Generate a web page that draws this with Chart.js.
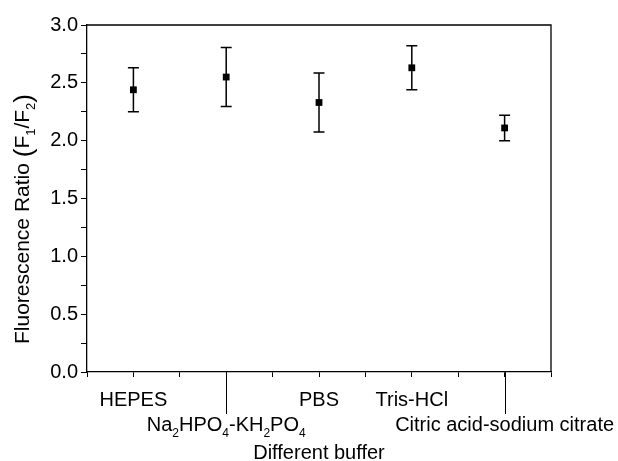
<!DOCTYPE html>
<html lang="en">
<head>
  <meta charset="UTF-8">
  <title>Fluorescence Ratio in Different Buffers</title>
  <script src="https://cdn.jsdelivr.net/npm/chart.js"></script>
  <style>
    html, body { margin: 0; padding: 0; background: #fff; }
    #wrap { width: 618px; height: 461px; }
  </style>
</head>
<body>
  <div id="wrap"><canvas id="bufferChart" width="618" height="461"></canvas></div>

  <script>
    // '_' marks the next character as a subscript
    const buffers = ['HEPES', 'Na_2HPO_4-KH_2PO_4', 'PBS', 'Tris-HCl', 'Citric acid-sodium citrate'];
    const ratios = [2.44, 2.55, 2.33, 2.63, 2.11];
    const errors = [0.19, 0.255, 0.255, 0.19, 0.11];
    const yMin = 0, yMax = 3, yStep = 0.5;
    const xTitle = 'Different buffer';
    const yTitle = 'Fluorescence Ratio (F_1/F_2)';

    const FONT = "'Liberation Sans', Arial, sans-serif";
    const labelRow = [0, 1, 0, 0, 1]; // staggered category labels

    // split a string into normal / subscript / big-paren runs
    function parseRich(str, bigParens) {
      const runs = [];
      for (let i = 0; i < str.length; i++) {
        const c = str[i];
        if (c === '_' && i + 1 < str.length) {
          runs.push({ t: str[i + 1], sub: true });
          i++;
        } else if (bigParens && (c === '(' || c === ')')) {
          runs.push({ t: c, big: true });
        } else if (runs.length && !runs[runs.length - 1].sub && !runs[runs.length - 1].big) {
          runs[runs.length - 1].t += c;
        } else {
          runs.push({ t: c });
        }
      }
      return runs;
    }

    function fontFor(run, size) {
      if (run.sub) return Math.round(size * 0.62) + 'px ' + FONT;
      if (run.big) return Math.round(size * 1.25) + 'px ' + FONT;
      return size + 'px ' + FONT;
    }

    // draws text centered at x on baseline y (in current transform)
    function drawRich(ctx, str, x, y, size, bigParens) {
      const runs = parseRich(str, bigParens);
      let w = 0;
      runs.forEach(r => { ctx.font = fontFor(r, size); w += ctx.measureText(r.t).width; });
      let cx = x - w / 2;
      ctx.textAlign = 'left';
      ctx.textBaseline = 'alphabetic';
      runs.forEach(r => {
        ctx.font = fontFor(r, size);
        ctx.fillText(r.t, cx, r.sub ? y + size * 0.3 : (r.big ? y + size * 0.12 : y));
        cx += ctx.measureText(r.t).width;
      });
    }

    const decorPlugin = {
      id: 'decor',
      afterDatasetsDraw(chart) {
        const { ctx, chartArea: a, scales: { x, y } } = chart;
        ctx.save();
        ctx.strokeStyle = '#000';
        ctx.fillStyle = '#000';

        // error bars
        ctx.lineWidth = 1.5;
        ratios.forEach((v, i) => {
          const px = x.getPixelForValue(i + 1);
          const top = y.getPixelForValue(v + errors[i]);
          const bot = y.getPixelForValue(v - errors[i]);
          ctx.beginPath();
          ctx.moveTo(px, top); ctx.lineTo(px, bot);
          ctx.moveTo(px - 5.5, top); ctx.lineTo(px + 5.5, top);
          ctx.moveTo(px - 5.5, bot); ctx.lineTo(px + 5.5, bot);
          ctx.stroke();
        });

        // top and right frame
        ctx.lineWidth = 1.3;
        ctx.beginPath();
        ctx.moveTo(a.left, a.top); ctx.lineTo(a.right, a.top); ctx.lineTo(a.right, a.bottom);
        ctx.stroke();

        // long ticks for second-row labels
        ctx.lineWidth = 1;
        buffers.forEach((b, i) => {
          if (!labelRow[i]) return;
          const px = Math.round(x.getPixelForValue(i + 1)) + 0.5;
          ctx.beginPath();
          ctx.moveTo(px, a.bottom); ctx.lineTo(px, a.bottom + 42);
          ctx.stroke();
        });

        // category labels
        buffers.forEach((b, i) => {
          drawRich(ctx, b, x.getPixelForValue(i + 1), labelRow[i] ? 431 : 406, 20);
        });

        // axis titles
        drawRich(ctx, xTitle, (a.left + a.right) / 2, 459, 20);
        ctx.translate(29, 219);
        ctx.rotate(-Math.PI / 2);
        drawRich(ctx, yTitle, 0, 0, 21, true);
        ctx.restore();
      }
    };

    new Chart(document.getElementById('bufferChart'), {
      type: 'scatter',
      data: {
        datasets: [{
          data: ratios.map((v, i) => ({ x: i + 1, y: v })),
          pointStyle: 'rect',
          pointRadius: 4.8,
          backgroundColor: '#000',
          borderColor: '#000',
          borderWidth: 0,
          clip: false
        }]
      },
      options: {
        responsive: false,
        animation: false,
        events: [],
        layout: { padding: { top: 25, right: 67, left: 0, bottom: 0 } },
        plugins: { legend: { display: false }, tooltip: { enabled: false } },
        scales: {
          x: {
            type: 'linear',
            min: 0.5,
            max: buffers.length + 0.5,
            afterFit(scale) { scale.height = 89; },
            ticks: { display: false, stepSize: 0.5, autoSkip: false },
            grid: { drawOnChartArea: false, drawTicks: true, tickLength: 5, color: '#000', lineWidth: 1 },
            border: { display: true, color: '#000', width: 1.3 }
          },
          y: {
            min: yMin,
            max: yMax,
            afterFit(scale) { scale.width = 87; },
            ticks: {
              stepSize: yStep / 2,
              autoSkip: false,
              padding: 3,
              color: '#000',
              font: { family: FONT, size: 20 },
              callback: v => (Math.abs(v / yStep - Math.round(v / yStep)) < 1e-6 ? v.toFixed(1) : '')
            },
            grid: { drawOnChartArea: false, drawTicks: true, tickLength: 6, color: '#000', lineWidth: 1 },
            border: { display: true, color: '#000', width: 1.3 }
          }
        }
      },
      plugins: [decorPlugin]
    });
  </script>
</body>
</html>
